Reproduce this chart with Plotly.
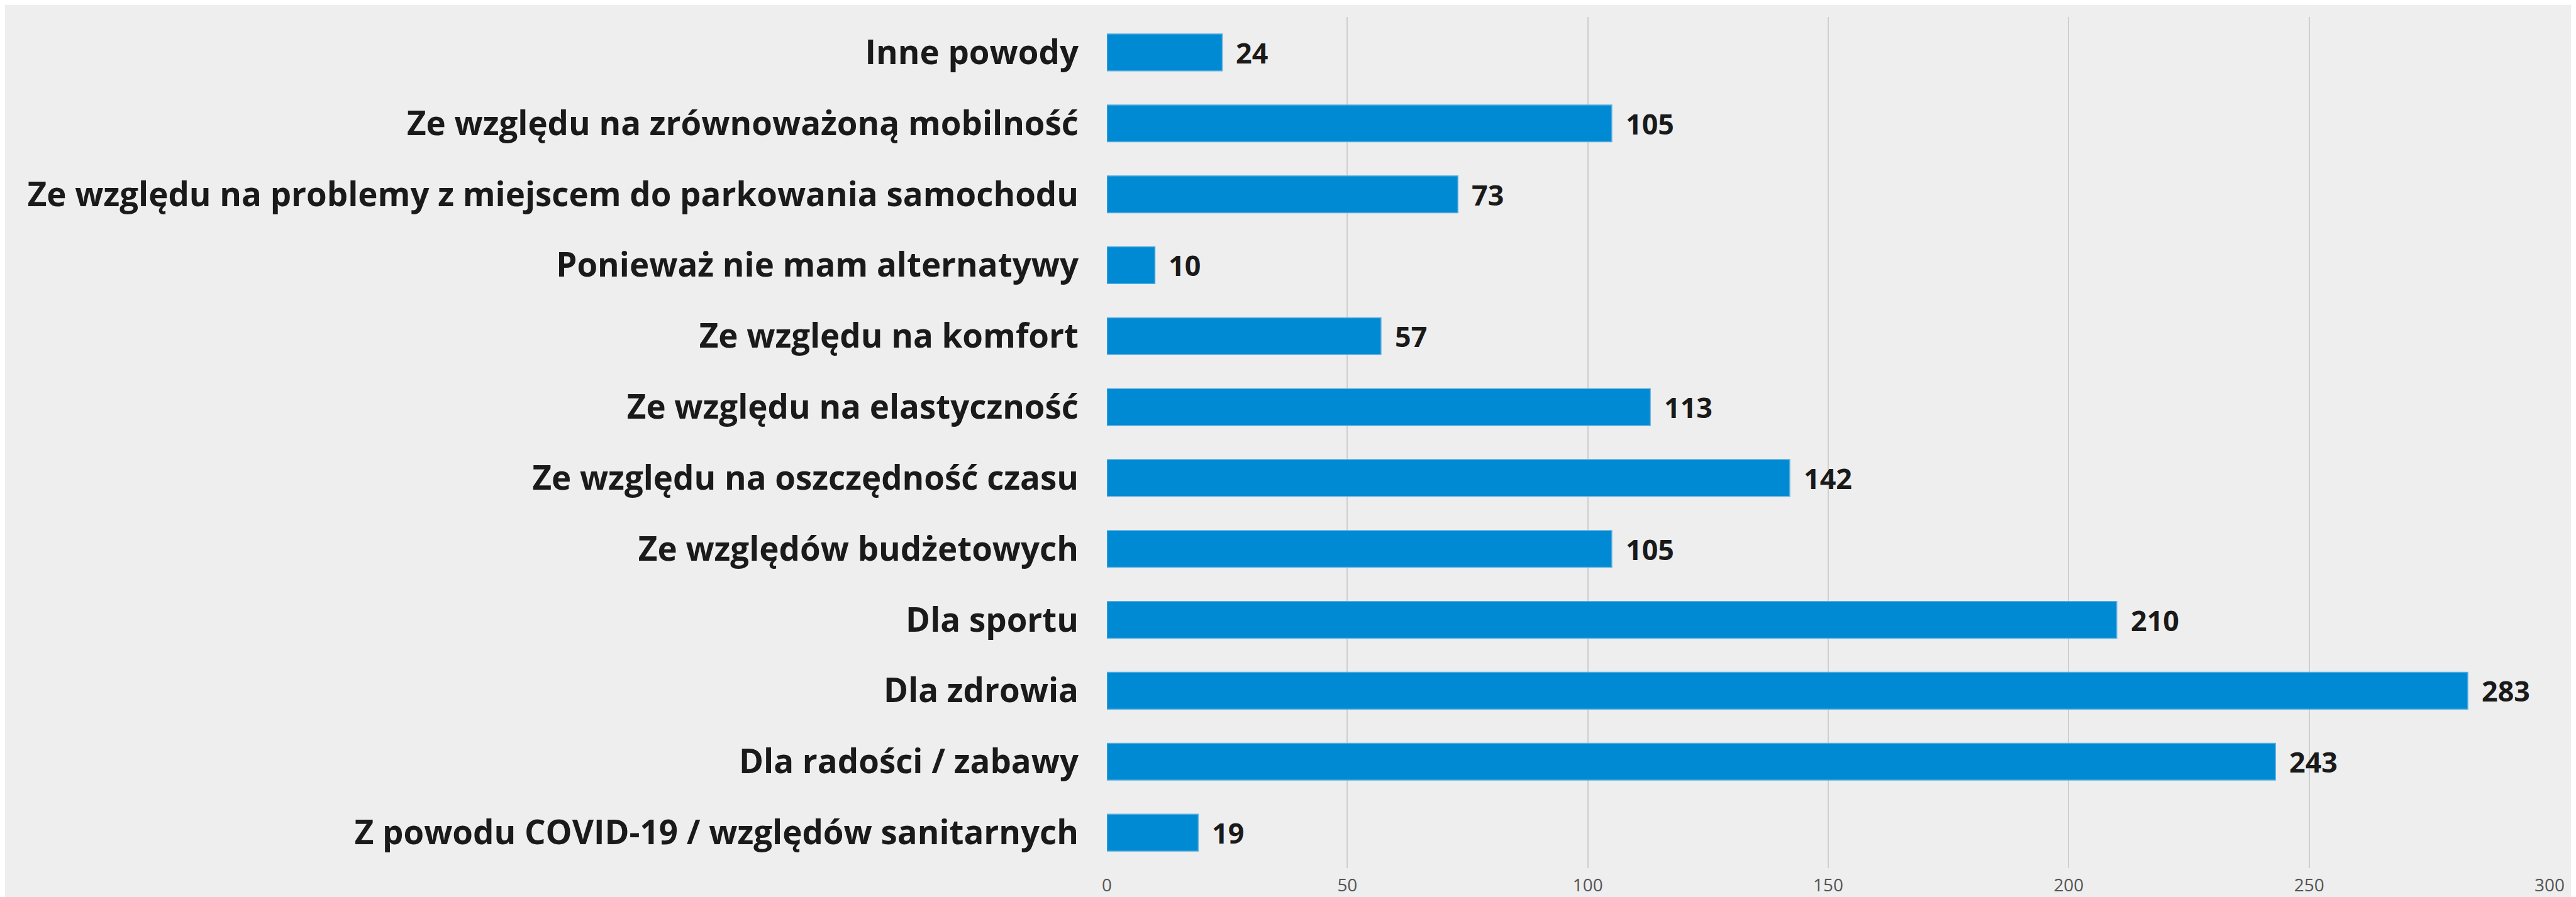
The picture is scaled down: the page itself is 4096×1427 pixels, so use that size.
import plotly.graph_objects as go

S = 0.997

categories = [
    "Inne powody",
    "Ze względu na zrównoważoną mobilność",
    "Ze względu na problemy z miejscem do parkowania samochodu",
    "Ponieważ nie mam alternatywy",
    "Ze względu na komfort",
    "Ze względu na elastyczność",
    "Ze względu na oszczędność czasu",
    "Ze względów budżetowych",
    "Dla sportu",
    "Dla zdrowia",
    "Dla radości / zabawy",
    "Z powodu COVID-19 / względów sanitarnych",
]
values = [24, 105, 73, 10, 57, 113, 142, 105, 210, 283, 243, 19]
x_ticks = [0, 50, 100, 150, 200, 250, 300]

BAR = "#008ad4"
BG = "#eeeeee"
TXT = "#1a1a1a"
FONT = "Open Sans"

fig = go.Figure()
fig.add_trace(go.Bar(
    x=values, y=categories, orientation="h",
    marker=dict(color=BAR, line=dict(color="#5fb0e0", width=1.5 * S)),
    width=0.52,
    hoverinfo="skip",
))

for c, v in zip(categories, values):
    fig.add_annotation(
        x=v, y=c, text=f"<b>{v}</b>", showarrow=False,
        xanchor="left", yanchor="middle", xshift=20 * S,
        font=dict(family=FONT, size=45 * S, color=TXT),
    )

W, H = 4096, 1427
fig.update_layout(
    width=W, height=H,
    paper_bgcolor=BG, plot_bgcolor=BG,
    margin=dict(l=1752, r=50, t=19, b=54, pad=0),
    showlegend=False,
    bargap=0.48,
    xaxis=dict(
        range=[0, 300], tickvals=x_ticks, ticktext=[str(t) for t in x_ticks],
        showgrid=True, gridcolor="#cfcfcf", gridwidth=2.5 * S,
        zeroline=False, showline=False, ticks="",
        ticklabelstandoff=8, automargin=False,
        tickfont=dict(family=FONT, size=28 * S, color="#555555"),
    ),
    yaxis=dict(
        autorange="reversed", showgrid=False, zeroline=False, showline=False,
        ticks="", ticklabelstandoff=44, automargin=False,
        tickfont=dict(family=FONT, size=53 * S, color=TXT, weight=700),
    ),
)

fig.write_html("out.html")
